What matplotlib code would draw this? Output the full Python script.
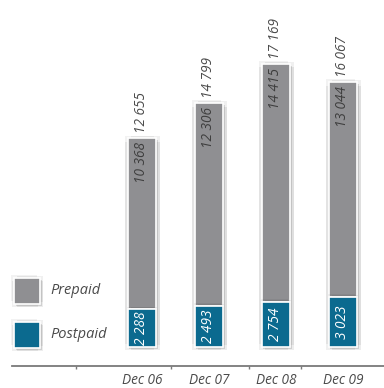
import matplotlib
matplotlib.use("Agg")
import matplotlib.pyplot as plt
from matplotlib.patches import Rectangle
import matplotlib.patheffects as pe

categories = ["Dec 06", "Dec 07", "Dec 08", "Dec 09"]
postpaid = [2288, 2493, 2754, 3023]
prepaid = [10368, 12306, 14415, 13044]
totals = [12655, 14799, 17169, 16067]

def fmt(v):
    return f"{v:,}".replace(",", " ")

plt.rcParams['font.family'] = ['Open Sans', 'DejaVu Sans']

C_PRE = "#8f8f92"
C_POST = "#0b6a8f"
TXT = "#4a4a4a"

W, H = 384, 388
fig = plt.figure(figsize=(W / 100, H / 100), dpi=100)
ax = fig.add_axes([12 / W, (H - 366) / H, (W - 12) / W, 366 / H])
ax.set_xlim(-1.94, -1.94 + 372 / 67)
ax.set_ylim(-1153, -1153 + 366 * 17169 / 283)

shadow = []
for (dx, dy, a) in [(2.5, -2.5, 0.07), (-2, 2, 0.05), (2.5, 1.5, 0.06), (-1.5, -2.5, 0.06),
                    (1.2, -1.2, 0.12), (0, 0, 0.1)]:
    shadow.append(pe.SimplePatchShadow(offset=(dx, dy), shadow_rgbFace="k", alpha=a))
shadow.append(pe.Normal())

x = list(range(len(categories)))
bw = 0.43
b1 = ax.bar(x, postpaid, width=bw, color=C_POST, edgecolor="white", linewidth=1.2, zorder=3)
b2 = ax.bar(x, prepaid, width=bw, bottom=postpaid, color=C_PRE, edgecolor="white", linewidth=1.2, zorder=2)
for p in list(b1) + list(b2):
    p.set_path_effects(shadow)

upp = 17169 / 283  # data units per pixel
FS = 9.8
for i in x:
    ax.text(i, postpaid[i] / 2, fmt(postpaid[i]), rotation=90, ha="center", va="center",
            color="white", fontsize=FS, style="italic", zorder=5)
    ax.text(i, totals[i] - 4 * upp, fmt(prepaid[i]), rotation=90, ha="center", va="top",
            color="#3e3e3e", fontsize=FS, style="italic", zorder=5)
    ax.text(i, totals[i] + 5 * upp, fmt(totals[i]), rotation=90, ha="center", va="bottom",
            color=TXT, fontsize=FS, style="italic", zorder=5)

for s in ["top", "right", "left"]:
    ax.spines[s].set_visible(False)
ax.spines["bottom"].set_color("#7a7a7a")
ax.spines["bottom"].set_linewidth(1.3)
ax.set_yticks([])
ax.set_xticks(x)
ax.set_xticklabels(categories, style="italic", color=TXT, fontsize=FS)
ax.tick_params(axis="x", length=0, pad=5)
ax.set_xticks([-0.985, 0.43, 1.6, 2.37], minor=True)
ax.tick_params(axis="x", which="minor", length=2, color="#7a7a7a", width=1)
ax.patch.set_alpha(0)

# legend
for (lbl, col, ytop) in [("Prepaid", C_PRE, 278), ("Postpaid", C_POST, 322)]:
    r = Rectangle((14 / W, (H - ytop - 26) / H), 26 / W, 26 / H, transform=fig.transFigure,
                  facecolor=col, edgecolor="white", linewidth=1.2)
    r.set_path_effects(shadow)
    fig.add_artist(r)
    fig.text(50 / W, (H - ytop - 13) / H, lbl, ha="left", va="center", style="italic",
             color=TXT, fontsize=10.5)

fig.savefig("out.png", dpi=100)
